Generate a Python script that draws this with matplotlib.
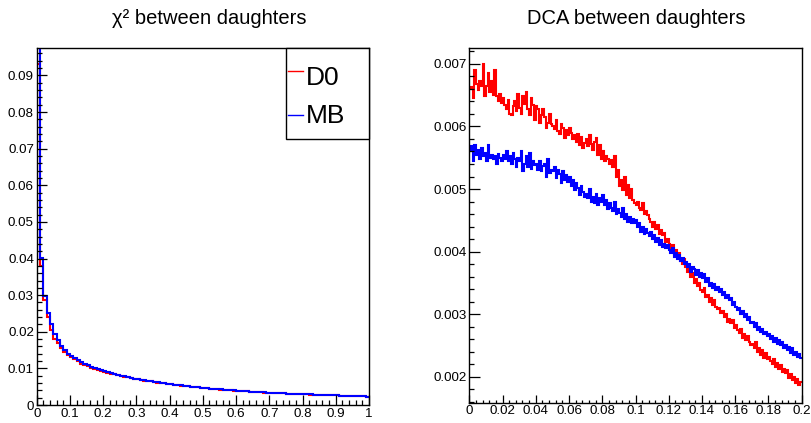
import numpy as np
import matplotlib
matplotlib.use("Agg")
import matplotlib.pyplot as plt
from matplotlib.ticker import MultipleLocator, FuncFormatter
from matplotlib.lines import Line2D
from matplotlib.patches import Rectangle

plt.rcParams['font.family'] = ['Liberation Sans', 'DejaVu Sans']

# ---------------- data (values in units of 1e-5) ----------------
# chi2 between daughters: 100 bins on [0, 1]
chi2_edges_range = (0.0, 1.0)
chi2_D0 = [9300, 3800, 2880, 2390, 2050, 1800, 1700, 1560, 1460, 1360,
           1320, 1250, 1190, 1130, 1100, 1060, 1020, 990, 960, 935,
           905, 885, 858, 845, 812, 798, 770, 758, 738, 715,
           700, 685, 668, 652, 645, 628, 612, 604, 588, 576,
           562, 552, 540, 530, 520, 508, 500, 490, 482, 472,
           460, 455, 445, 438, 428, 422, 415, 405, 400, 392,
           395, 382, 376, 370, 362, 358, 350, 348, 340, 338,
           332, 330, 322, 320, 315, 310, 306, 304, 298, 296,
           298, 290, 285, 282, 280, 275, 272, 270, 265, 262,
           260, 256, 254, 250, 248, 245, 240, 238, 235, 232]
chi2_MB = [15000, 4010, 2980, 2520, 2200, 1930, 1770, 1620, 1510, 1400,
           1340, 1280, 1220, 1170, 1120, 1080, 1040, 1010, 970, 945,
           915, 890, 865, 842, 820, 800, 782, 762, 745, 722,
           705, 690, 672, 660, 648, 632, 620, 606, 595, 580,
           568, 556, 545, 535, 524, 515, 505, 495, 485, 475,
           466, 458, 450, 440, 434, 425, 418, 410, 402, 398,
           392, 385, 380, 372, 366, 360, 355, 350, 345, 340,
           336, 332, 327, 322, 318, 314, 310, 306, 302, 298,
           296, 292, 288, 285, 282, 278, 275, 272, 268, 265,
           262, 258, 256, 252, 250, 246, 243, 240, 236, 232]

# DCA between daughters: 200 bins on [0, 0.2]
dca_edges_range = (0.0, 0.2)
dca_D0 = [660, 663, 645, 690, 668, 658, 672, 665, 700, 648,
          664, 685, 655, 672, 650, 690, 648, 640, 652, 638,
          645, 634, 628, 642, 620, 618, 632, 640, 625, 652,
          630, 620, 648, 636, 655, 628, 618, 645, 635, 610,
          632, 628, 606, 618, 628, 615, 598, 606, 620, 604,
          600, 596, 610, 592, 588, 604, 598, 582, 595, 587,
          598, 590, 580, 586, 575, 588, 570, 583, 566, 574,
          580, 568, 586, 572, 562, 575, 582, 555, 570, 548,
          560, 545, 552, 548, 540, 546, 535, 552, 520, 530,
          505, 515, 498, 520, 490, 507, 486, 500, 482, 478,
          475, 480, 470, 466, 478, 460, 465, 458, 452, 447,
          440, 448, 436, 442, 428, 435, 426, 430, 415, 420,
          412, 405, 410, 395, 402, 392, 398, 385, 380, 388,
          375, 368, 372, 360, 365, 350, 356, 345, 350, 338,
          335, 342, 328, 330, 320, 326, 315, 322, 312, 308,
          310, 302, 305, 296, 300, 288, 292, 285, 290, 278,
          282, 275, 270, 276, 262, 268, 258, 265, 255, 250,
          252, 246, 255, 240, 245, 235, 242, 230, 238, 228,
          232, 225, 220, 228, 215, 222, 212, 218, 208, 212,
          205, 210, 198, 204, 195, 200, 190, 196, 186, 192]
dca_MB = [560, 568, 545, 570, 555, 562, 548, 565, 552, 558,
          545, 570, 550, 555, 548, 552, 540, 556, 550, 545,
          555, 548, 560, 545, 553, 540, 558, 548, 535, 550,
          545, 560, 528, 540, 552, 535, 558, 532, 545, 538,
          540, 530, 545, 528, 536, 540, 520, 548, 525, 530,
          528, 535, 518, 530, 524, 510, 528, 515, 522, 512,
          520, 505, 515, 498, 510, 502, 490, 505, 495, 488,
          492, 485, 500, 480, 488, 478, 492, 475, 485, 480,
          490, 475, 482, 468, 478, 470, 465, 480, 460, 468,
          462, 455, 470, 452, 460, 448, 456, 445, 452, 446,
          450, 440, 445, 432, 440, 428, 436, 430, 425, 432,
          420, 426, 415, 422, 410, 418, 408, 412, 405, 410,
          402, 398, 405, 392, 398, 388, 395, 385, 390, 380,
          384, 375, 380, 368, 376, 372, 362, 370, 360, 366,
          358, 364, 352, 358, 345, 350, 342, 348, 338, 344,
          335, 340, 330, 336, 325, 330, 322, 326, 315, 320,
          312, 306, 310, 300, 305, 296, 300, 290, 295, 285,
          288, 280, 285, 275, 280, 272, 276, 268, 272, 265,
          268, 260, 265, 256, 262, 252, 258, 250, 255, 246,
          250, 242, 248, 238, 245, 235, 240, 232, 236, 230]

titles = ["χ² between daughters", "DCA between daughters"]
legend_labels = ["D0", "MB"]
UNIT = 1e-5

RED = (1, 0, 0)
BLUE = (0, 0, 1)

fig = plt.figure(figsize=(8.12, 4.23), dpi=100)
W, H = 812, 423

def px_axes(x0, y0, x1, y1):
    return fig.add_axes([x0 / W, 1 - y1 / H, (x1 - x0) / W, (y1 - y0) / H])

axL = px_axes(36.7, 48, 369, 405)
axR = px_axes(469.3, 48.3, 801.7, 402.7)

def fmt(v, pos):
    return "%g" % round(v, 6)

def style(ax, xmaj, xmin, ymaj, ymin, xl, xm, yl, ym):
    ax.xaxis.set_major_locator(MultipleLocator(xmaj))
    ax.xaxis.set_minor_locator(MultipleLocator(xmin))
    ax.yaxis.set_major_locator(MultipleLocator(ymaj))
    ax.yaxis.set_minor_locator(MultipleLocator(ymin))
    ax.xaxis.set_major_formatter(FuncFormatter(fmt))
    ax.yaxis.set_major_formatter(FuncFormatter(fmt))
    ax.tick_params(axis='x', which='major', direction='in', length=xl, width=0.9,
                   labelsize=9.6, pad=2, top=False)
    ax.tick_params(axis='x', which='minor', direction='in', length=xm, width=0.9, top=False)
    ax.tick_params(axis='y', which='major', direction='in', length=yl, width=0.9,
                   labelsize=9.6, pad=2, right=False)
    ax.tick_params(axis='y', which='minor', direction='in', length=ym, width=0.9, right=False)
    for sp in ax.spines.values():
        sp.set_linewidth(1.0)
        sp.set_color('black')

# Left panel
nL = len(chi2_MB)
edgesL = np.linspace(chi2_edges_range[0], chi2_edges_range[1], nL + 1)
axL.stairs(np.array(chi2_D0) * UNIT, edgesL, color=RED, lw=1.5, baseline=None)
axL.stairs(np.array(chi2_MB) * UNIT, edgesL, color=BLUE, lw=1.5, baseline=None)
axL.set_xlim(0, 1)
axL.set_ylim(0, 0.0975)
style(axL, 0.1, 0.02, 0.01, 0.002, 7.2, 3.6, 7.2, 3.6)

# Right panel
nR = len(dca_MB)
edgesR = np.linspace(dca_edges_range[0], dca_edges_range[1], nR + 1)
axR.stairs(np.array(dca_D0) * UNIT, edgesR, color=RED, lw=1.5, baseline=None)
axR.stairs(np.array(dca_MB) * UNIT, edgesR, color=BLUE, lw=1.5, baseline=None)
axR.set_xlim(0, 0.2)
axR.set_ylim(0.001583, 0.00725)
style(axR, 0.02, 0.004, 0.001, 0.0002, 5.5, 2.2, 7.7, 3.4)

# Titles
fig.text(209 / W, 1 - 18 / H, titles[0], ha='center', va='center', fontsize=14.5)
fig.text(636 / W, 1 - 18 / H, titles[1], ha='center', va='center', fontsize=14.5)

# Legend (drawn in figure pixel coordinates, ROOT TLegend style)
def fx(x):
    return x / W

def fy(y):
    return 1 - y / H

fig.patches.append(Rectangle((fx(286), fy(139)), (369 - 286) / W, (139 - 48) / H,
                             transform=fig.transFigure, facecolor='white',
                             edgecolor='black', lw=1.0, zorder=5))
for lab, col, yl, yt in zip(legend_labels, [RED, BLUE], [71, 115], [78, 116]):
    fig.lines.append(Line2D([fx(288), fx(303)], [fy(yl), fy(yl)], transform=fig.transFigure,
                            color=col, lw=1.0, zorder=6))
    fig.text(fx(306), fy(yt), lab, ha='left', va='center', fontsize=19, zorder=6)

fig.savefig("out.png", dpi=100)
